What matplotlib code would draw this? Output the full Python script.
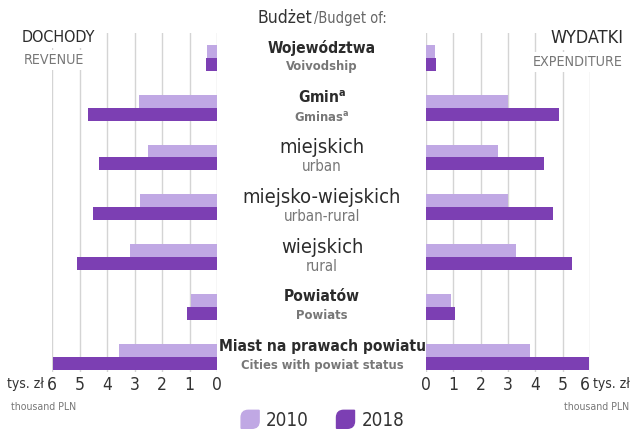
import numpy as np
import matplotlib.pyplot as plt
from matplotlib import font_manager
from matplotlib.legend_handler import HandlerPatch
from matplotlib.patches import Patch, PathPatch
from matplotlib.path import Path

# prefer a condensed sans face, else Liberation Sans
face, stretch = 'Liberation Sans', 'normal'
for f in font_manager.fontManager.ttflist:
    if f.stretch in ('condensed', 'semi-condensed', 'extra-condensed') and 'Mono' not in f.name \
            and 'CJK' not in f.name and 'Serif' not in f.name:
        face, stretch = f.name, f.stretch
        break
plt.rcParams['font.family'] = [face, 'DejaVu Sans']
plt.rcParams['font.stretch'] = stretch
plt.rcParams['mathtext.fontset'] = 'custom'
plt.rcParams['mathtext.rm'] = face

# budgets per capita, thousand PLN
labels_pl = ["Województwa", "Gmin$^{\\mathregular{a}}$", "miejskich", "miejsko-wiejskich",
             "wiejskich", "Powiatów", "Miast na prawach powiatu"]
labels_en = ["Voivodship", "Gminas$^{\\mathregular{a}}$", "urban", "urban-rural",
             "rural", "Powiats", "Cities with powiat status"]
bold_rows = [True, True, False, False, False, True, True]

revenue_2010 = [0.35, 2.85, 2.5, 2.8, 3.15, 0.95, 3.55]
revenue_2018 = [0.40, 4.7, 4.3, 4.5, 5.1, 1.1, 5.95]
expenditure_2010 = [0.33, 3.0, 2.65, 3.0, 3.3, 0.92, 3.8]
expenditure_2018 = [0.35, 4.85, 4.3, 4.65, 5.35, 1.05, 5.95]

years = ["2010", "2018"]
c_light = "#c0a8e4"
c_dark = "#7c3fb3"

W, H = 632, 430
fig = plt.figure(figsize=(W / 100, H / 100), dpi=100)

def box(x0, x1, y0, y1):
    return [x0 / W, 1 - y1 / H, (x1 - x0) / W, (y1 - y0) / H]

ax_l = fig.add_axes(box(52, 217, 33, 372))
ax_r = fig.add_axes(box(426, 590, 33, 372))

y = np.arange(len(labels_pl))
h = 0.26
for ax, v10, v18 in [(ax_l, revenue_2010, revenue_2018), (ax_r, expenditure_2010, expenditure_2018)]:
    ax.barh(y - h / 2, v10, height=h, color=c_light, zorder=2)
    ax.barh(y + h / 2, v18, height=h, color=c_dark, zorder=2)
    ax.set_ylim(6.31, -0.5)
    ax.set_xticks(range(7))
    ax.set_yticks([])
    ax.grid(axis='x', color='#d4d4d4', lw=1, zorder=0)
    ax.set_axisbelow(True)
    for s in ax.spines.values():
        s.set_visible(False)
    ax.tick_params(axis='x', length=0, pad=3, labelsize=12.5, labelcolor='#333333')

ax_l.set_xlim(6, 0)
ax_r.set_xlim(0, 6)
# last right-hand tick label sits just left of its line, before the unit
ax_r.get_xticklabels()[-1].set_horizontalalignment('right')

# centre column with bilingual row labels
xc = 322 / W
for i in range(len(labels_pl)):
    yp = ax_l.transData.transform((0, i))[1]
    if bold_rows[i]:
        pl_kw = dict(fontsize=11.2, fontweight='bold')
        en_kw = dict(fontsize=9.3, fontweight='bold')
    else:
        pl_kw = dict(fontsize=14.5)
        en_kw = dict(fontsize=10.8)
    fig.text(xc, (yp + 10) / H, labels_pl[i], ha='center', va='center', color='#2b2b2b', **pl_kw)
    fig.text(xc, (yp - 9) / H, labels_en[i], ha='center', va='center', color='#777777', **en_kw)

fig.text(312 / W, 1 - 18 / H, "Budżet", ha='right', va='center', fontsize=12.5, color='#333333')
fig.text(314 / W, 1 - 18 / H, "/Budget of:", ha='left', va='center', fontsize=10.5, color='#666666')

white = dict(facecolor='white', edgecolor='none', pad=2)
fig.text(22 / W, 1 - 38 / H, "DOCHODY", ha='left', va='center', fontsize=11.5, color='#2b2b2b', bbox=white)
fig.text(24 / W, 1 - 60 / H, "REVENUE", ha='left', va='center', fontsize=10.2, color='#777777', bbox=white)
fig.text(623 / W, 1 - 38 / H, "WYDATKI", ha='right', va='center', fontsize=13, color='#2b2b2b', bbox=white)
fig.text(623 / W, 1 - 62 / H, "EXPENDITURE", ha='right', va='center', fontsize=10.3, color='#777777', bbox=white)

# unit captions beside the scales
fig.text(44 / W, 1 - 384 / H, "tys. zł", ha='right', va='center', fontsize=10, color='#333333')
fig.text(11 / W, 1 - 407 / H, "thousand PLN", ha='left', va='center', fontsize=7.6, color='#777777')
fig.text(630 / W, 1 - 384 / H, "tys. zł", ha='right', va='center', fontsize=10, color='#333333')
fig.text(629 / W, 1 - 407 / H, "thousand PLN", ha='right', va='center', fontsize=7.6, color='#777777')


def leaf(legend, orig_handle, xdescent, ydescent, width, height, fontsize):
    # square with the top-left and bottom-right corners rounded
    s = height
    x0 = -xdescent + (width - s) / 2
    y0 = -ydescent
    x1, y1 = x0 + s, y0 + s
    r = 0.4 * s
    verts = [(x0 + r, y1), (x1, y1), (x1, y0 + r), (x1, y0), (x1 - r, y0),
             (x0, y0), (x0, y1 - r), (x0, y1), (x0 + r, y1), (x0 + r, y1)]
    codes = [Path.MOVETO, Path.LINETO, Path.LINETO, Path.CURVE3, Path.CURVE3,
             Path.LINETO, Path.LINETO, Path.CURVE3, Path.CURVE3, Path.CLOSEPOLY]
    return PathPatch(Path(verts, codes))


handles = [Patch(color=c_light), Patch(color=c_dark)]
fig.legend(handles, years, loc='center', bbox_to_anchor=(322 / W, 1 - 420 / H), ncol=2,
           frameon=False, fontsize=13.5, handlelength=1.1, handleheight=1.1,
           handletextpad=0.3, columnspacing=1.4, labelcolor='#333333',
           handler_map={Patch: HandlerPatch(patch_func=leaf)})

fig.savefig("out.png", dpi=100)
